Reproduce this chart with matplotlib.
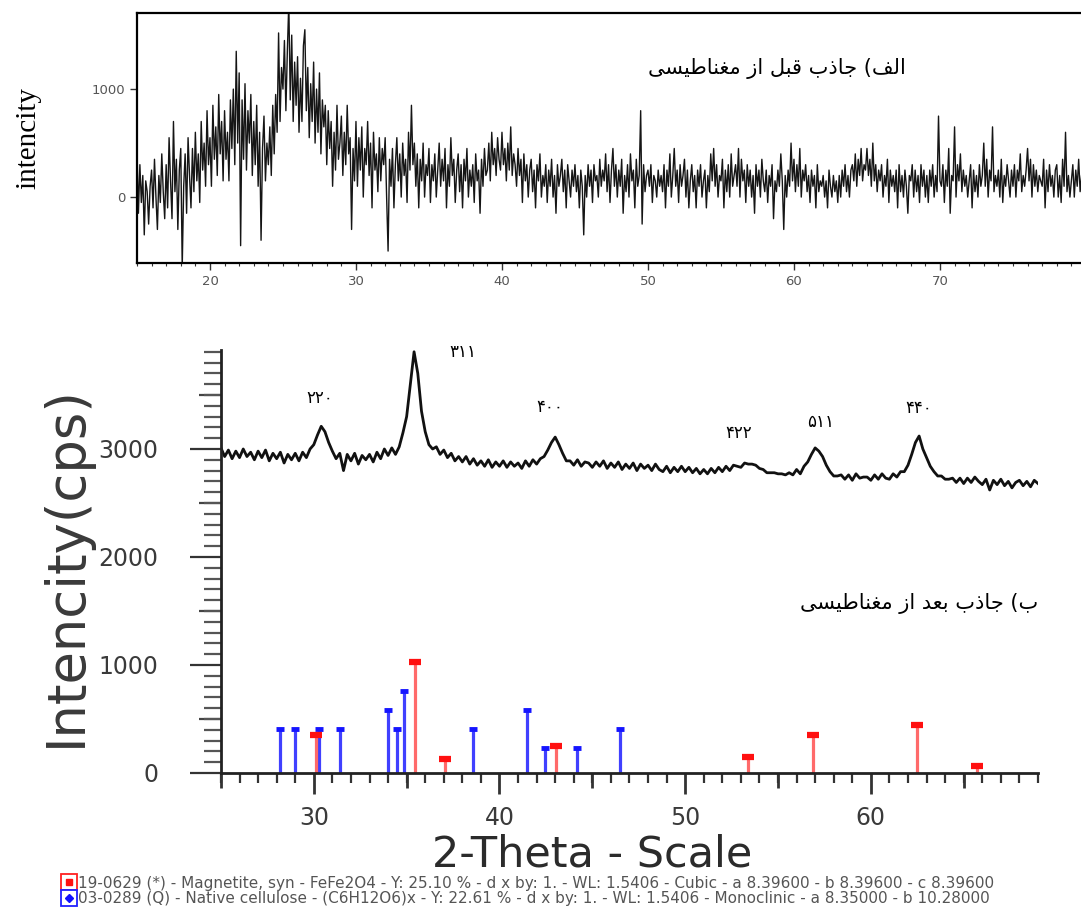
import numpy as np
import matplotlib
matplotlib.use("Agg")
import matplotlib.pyplot as plt
from matplotlib.lines import Line2D
from matplotlib.legend_handler import HandlerTuple
from matplotlib.ticker import MultipleLocator, NullFormatter

plt.rcParams["font.family"] = ["DejaVu Sans"]

# ---- (a) sorbent before magnetisation: 2theta 15.0..79.9, step 0.1 (one row per degree)
before_start, before_step = 15.0, 0.1
before_counts = [
    450, -150, 300, -50, 200, -350, 150, 50, -250, 100,
    250, -100, 350, 0, -300, 200, -50, 400, 50, -200,
    300, -100, 550, 150, -200, 700, 50, 350, -300, 250,
    450, -650, 100, 400, -150, 550, 200, -100, 450, 50,
    600, 150, 400, -50, 700, 250, 500, 100, 800, 300,
    550, 100, 850, 350, 650, 200, 950, 400, 700, 150,
    800, 350, 600, 150, 900, 450, 1000, 300, 1350, 500,
    1150, -450, 900, 350, 1050, 250, 800, 500, 950, 200,
    700, 300, 850, 100, 600, -400, 450, 750, 150, 500,
    300, 650, 200, 850, 400, 950, 600, 1520, 700, 1200,
    1000, 1450, 800, 1350, 1800, 900, 1500, 700, 1250, 850,
    1300, 600, 1100, 700, 1400, 1550, 800, 1200, 550, 1050,
    700, 1250, 500, 1000, 600, 1150, 400, 900, 650, 850,
    300, 800, 450, 700, 100, 600, 250, 850, 350, 500,
    750, 200, 600, 300, 850, 400, 550, -300, 450, 150,
    700, 100, 550, 250, 650, 0, 450, 300, 700, 200,
    500, -100, 600, 250, 400, 50, 550, 150, 450, 300,
    550, 0, -500, 350, 100, 450, -100, 300, 550, 150,
    400, 0, 500, 200, 350, -50, 600, 250, 850, 300,
    500, 100, 400, -100, 350, 150, 500, 0, 300, 200,
    450, -50, 300, 150, 400, 0, 250, 500, 100, 350,
    150, 450, -100, 300, 100, 550, 200, 350, -50, 250,
    400, 50, 300, -100, 350, 150, 450, 0, 250, 100,
    300, -50, 400, 150, 250, -150, 350, 100, 450, 200,
    250, 500, 150, 600, 300, 450, 200, 550, 350, 250,
    600, 300, 450, 150, 500, 250, 650, 200, 400, 300,
    100, 450, 200, 350, -50, 400, 150, 300, 0, 250,
    350, 50, 250, -100, 300, 150, 400, 0, 200, 100,
    300, -50, 250, 100, 350, 0, 200, -150, 300, 100,
    200, 350, 50, 250, -100, 300, 150, 0, 250, 100,
    300, 50, 200, -100, 250, 100, -350, 200, 0, 300,
    100, 250, -50, 300, 150, 200, 0, 350, 100, 250,
    150, 400, 50, 300, -50, 250, 450, 100, 300, 0,
    250, 100, 350, -150, 200, 50, 300, 0, 400, 150,
    250, -100, 350, 100, 200, 800, -250, 300, 50, 200,
    250, 100, 300, -50, 200, 150, 0, 250, 100, 200,
    50, 300, -100, 250, 100, 400, 0, 200, 450, 100,
    250, -50, 300, 100, 200, 350, 0, 250, -100, 150,
    300, 50, 200, -100, 250, 100, 300, 0, 150, 250,
    -100, 200, 50, 400, 150, 450, 100, 300, 0, 200,
    150, 350, -100, 250, 50, 300, 0, 400, 100, 200,
    300, 100, 450, 0, 350, 150, 250, -50, 300, 100,
    250, 0, 200, -150, 300, 100, 250, 0, 350, 150,
    50, 250, -50, 200, 100, 300, -200, 150, 50, 250,
    100, 400, 150, -300, 200, 0, 250, 100, 500, 150,
    350, 50, 300, 100, 450, 0, 250, 150, 300, 50,
    200, -50, 250, 100, 200, -100, 300, 50, 150, 100,
    200, 0, 150, -100, 250, 100, 0, 200, 50, 150,
    -50, 200, 0, 250, 100, 300, 50, 200, 0, 250,
    300, 150, 400, 100, 350, 200, 450, 150, 300, 250,
    450, 200, 350, 100, 500, 150, 300, 50, 250, 150,
    300, 0, 200, 100, 350, -50, 250, 100, 200, 50,
    250, -100, 300, 50, 200, 0, 250, 100, -150, 200,
    150, 300, 0, 250, 50, 200, -50, 300, 100, 250,
    0, 200, -50, 250, 100, 300, 0, 200, 50, 750,
    150, 100, 300, -50, 250, 100, 450, -150, 200, 150,
    650, 0, 300, 150, 400, 50, 250, 100, 200, 0,
    150, 300, -100, 250, 50, 200, 0, 300, 100, 200,
    500, 100, 350, 0, 250, 150, 650, 50, 200, 100,
    250, 0, 350, -50, 200, 100, 300, 150, 0, 250,
    100, 300, 0, 250, 150, 400, 50, 200, 100, 250,
    450, 150, 350, 0, 300, 100, 250, 50, 200, 150,
    100, 350, -100, 250, 50, 300, 100, 200, 0, 250,
    300, 0, 200, -50, 350, 100, 600, 50, 200, 0,
    150, 300, 0, 250, 100, 350, 50, 200, 100, 250,
]

# ---- (b) sorbent after magnetisation: 2theta 25..69, step 0.2
after_start, after_step = 25.0, 0.2
after_counts = [
    3010, 2930, 2990, 2910, 2980,  2920, 3000, 2930, 2970, 2900,
    2980, 2920, 2990, 2890, 2960,  2910, 2970, 2870, 2950, 2900,
    2960, 2890, 2970, 2920, 3000,  3040, 3130, 3210, 3160, 3060,
    2980, 2910, 2960, 2800, 2950,  2890, 2960, 2860, 2940, 2900,
    2950, 2880, 2970, 2910, 3000,  2940, 3010, 2950, 3020, 3150,
    3300, 3600, 3900, 3700, 3350,  3160, 3040, 3000, 3020, 2950,
    2990, 2920, 2960, 2890, 2930,  2880, 2930, 2860, 2910, 2850,
    2890, 2840, 2900, 2830, 2880,  2840, 2890, 2830, 2880, 2840,
    2870, 2820, 2890, 2840, 2900,  2860, 2910, 2930, 2990, 3060,
    3110, 3040, 2960, 2890, 2890,  2850, 2900, 2840, 2880, 2870,
    2830, 2880, 2840, 2890, 2820,  2870, 2830, 2880, 2810, 2860,
    2820, 2870, 2800, 2860, 2820,  2850, 2800, 2860, 2810, 2790,
    2840, 2780, 2830, 2790, 2840,  2790, 2830, 2780, 2820, 2770,
    2810, 2770, 2820, 2780, 2830,  2790, 2840, 2800, 2850, 2840,
    2830, 2870, 2860, 2860, 2850,  2820, 2810, 2780, 2780, 2780,
    2770, 2770, 2760, 2780, 2760,  2810, 2770, 2840, 2880, 2950,
    3010, 2980, 2930, 2850, 2790,  2750, 2750, 2760, 2720, 2760,
    2710, 2770, 2730, 2740, 2740,  2710, 2760, 2720, 2770, 2730,
    2720, 2770, 2740, 2790, 2790,  2850, 2950, 3060, 3120, 3000,
    2920, 2840, 2790, 2750, 2750,  2720, 2720, 2730, 2690, 2730,
    2680, 2730, 2690, 2740, 2700,  2670, 2720, 2620, 2710, 2670,
    2720, 2660, 2700, 2640, 2690,  2710, 2660, 2700, 2650, 2710,
    2680,
]

# reference patterns (stick lines)
magnetite_pos = [30.1, 35.45, 37.05, 43.05, 53.4, 56.9, 62.5, 65.7]
magnetite_int = [350, 1030, 130, 250, 150, 350, 445, 65]
cellulose_pos = [28.2, 29.0, 30.3, 31.4, 34.0, 34.5, 34.85, 38.6, 41.5, 42.45, 44.2, 46.5]
cellulose_int = [405, 405, 405, 405, 583, 405, 760, 405, 583, 231, 231, 405]

# hkl labels (Persian digits) and where they sit
hkl_labels = ["۲۲۰", "۳۱۱", "۴۰۰", "۴۲۲", "۵۱۱", "۴۴۰"]
hkl_x = [30.3, 38.0, 42.7, 52.9, 57.3, 62.6]
hkl_y = [3470, 3900, 3390, 3150, 3250, 3380]

title_before = "الف) جاذب قبل از مغناطیسی"
title_after = "ب) جاذب بعد از مغناطیسی"
legend_labels = [
    "19-0629 (*) - Magnetite, syn - FeFe2O4 - Y: 25.10 % - d x by: 1. - WL: 1.5406 - Cubic - a 8.39600 - b 8.39600 - c 8.39600",
    "03-0289 (Q) - Native cellulose - (C6H12O6)x - Y: 22.61 % - d x by: 1. - WL: 1.5406 - Monoclinic - a 8.35000 - b 10.28000",
]

# matplotlib has no arabic shaping -> map to presentation forms, then reverse
FORMS = {
    "ا": ("\uFE8D", "\uFE8E", None, None),
    "ب": ("\uFE8F", "\uFE90", "\uFE91", "\uFE92"),
    "ج": ("\uFE9D", "\uFE9E", "\uFE9F", "\uFEA0"),
    "د": ("\uFEA9", "\uFEAA", None, None),
    "ذ": ("\uFEAB", "\uFEAC", None, None),
    "ز": ("\uFEAF", "\uFEB0", None, None),
    "س": ("\uFEB1", "\uFEB2", "\uFEB3", "\uFEB4"),
    "ط": ("\uFEC1", "\uFEC2", "\uFEC3", "\uFEC4"),
    "ع": ("\uFEC9", "\uFECA", "\uFECB", "\uFECC"),
    "غ": ("\uFECD", "\uFECE", "\uFECF", "\uFED0"),
    "ف": ("\uFED1", "\uFED2", "\uFED3", "\uFED4"),
    "ق": ("\uFED5", "\uFED6", "\uFED7", "\uFED8"),
    "ل": ("\uFEDD", "\uFEDE", "\uFEDF", "\uFEE0"),
    "م": ("\uFEE1", "\uFEE2", "\uFEE3", "\uFEE4"),
    "ن": ("\uFEE5", "\uFEE6", "\uFEE7", "\uFEE8"),
    "ی": ("\uFEEF", "\uFEF0", "\uFEF3", "\uFEF4"),
}


def shape_fa(s):
    out = []
    for i, c in enumerate(s):
        if c not in FORMS:
            out.append(c)
            continue
        prev = s[i - 1] if i > 0 else ""
        nxt = s[i + 1] if i + 1 < len(s) else ""
        p = prev in FORMS and FORMS[prev][2] is not None
        n = nxt in FORMS and FORMS[c][2] is not None
        iso, fin, ini, med = FORMS[c]
        out.append(med if (p and n) else fin if p else ini if n else iso)
    # visual order + bidi mirroring of brackets
    return "".join(out)[::-1].translate(str.maketrans("()", ")("))


fig = plt.figure(figsize=(10.81, 9.08), dpi=100)

# ---------------- top panel
ax1 = fig.add_axes([0.1267, 0.7103, 0.8779, 0.2753])
x1 = before_start + before_step * np.arange(len(before_counts))
ax1.plot(x1, before_counts, color="#151515", lw=1.0)
ax1.set_xlim(15, 80)
ax1.set_ylim(-611, 1704)
ax1.set_yticks([0, 1000])
ax1.set_xticks(np.arange(20, 71, 10))
ax1.xaxis.set_minor_locator(MultipleLocator(1))
ax1.tick_params(axis="both", which="major", length=5, width=1, colors="#333333",
                labelsize=9.5, labelcolor="#555555")
ax1.tick_params(axis="x", which="minor", length=2.5, width=0.8, colors="#333333")
for s in ax1.spines.values():
    s.set_linewidth(1.6)
ax1.spines["right"].set_visible(False)
ax1.set_ylabel("intencity", family="Liberation Serif", fontsize=21, labelpad=36)
ax1.text(0.81, 0.78, shape_fa(title_before), transform=ax1.transAxes,
         ha="right", va="center", fontsize=15)

# ---------------- bottom panel
ax2 = fig.add_axes([0.2044, 0.1487, 0.7558, 0.4659])
x2 = after_start + after_step * np.arange(len(after_counts))
ax2.plot(x2, after_counts, color="#111111", lw=2.0)

ax2.vlines(cellulose_pos, 0, cellulose_int, colors="#4040ff", lw=2.3)
ax2.plot(cellulose_pos, cellulose_int, ls="none", marker="_", ms=6, mew=3.5,
         color="#1515ff")
ax2.vlines(magnetite_pos, 0, magnetite_int, colors="#ff6a6a", lw=2.3)
ax2.plot(magnetite_pos, magnetite_int, ls="none", marker="_", ms=8, mew=4.5,
         color="#ff1010")

for lab, hx, hy in zip(hkl_labels, hkl_x, hkl_y):
    ax2.text(hx, hy, lab, ha="center", va="center", fontsize=12)

ax2.text(1.0, 0.40, shape_fa(title_after), transform=ax2.transAxes,
         ha="right", va="center", fontsize=15)

ax2.set_xlim(25, 69)
ax2.set_ylim(0, 3917)
ax2.spines["top"].set_visible(False)
ax2.spines["right"].set_visible(False)
for side in ("left", "bottom"):
    ax2.spines[side].set_linewidth(2)
    ax2.spines[side].set_color("#222222")

ax2.yaxis.set_major_locator(MultipleLocator(1000))
ax2.yaxis.set_minor_locator(MultipleLocator(100))
ax2.xaxis.set_major_locator(MultipleLocator(10))
ax2.xaxis.set_minor_locator(MultipleLocator(1))
ax2.tick_params(axis="y", which="major", length=22, width=1.6, colors="#333333",
                labelsize=17, labelcolor="#3a3a3a", pad=23)
ax2.tick_params(axis="y", which="minor", length=12, width=1.6, colors="#555555")
ax2.tick_params(axis="x", which="major", length=15, width=2, colors="#333333",
                labelsize=17, labelcolor="#3a3a3a", pad=9)
ax2.tick_params(axis="x", which="minor", length=7, width=1.6, colors="#333333")

# medium ticks at the half steps
secy = ax2.secondary_yaxis("left")
secy.set_yticks(np.arange(500, 3917, 1000))
secy.yaxis.set_major_formatter(NullFormatter())
secy.tick_params(length=16, width=1.6, colors="#444444")
secy.spines["left"].set_visible(False)
secx = ax2.secondary_xaxis("bottom")
secx.set_xticks(np.arange(25, 70, 10))
secx.xaxis.set_major_formatter(NullFormatter())
secx.tick_params(length=11, width=2, colors="#333333")
secx.spines["bottom"].set_visible(False)

ax2.set_xlabel("2-Theta - Scale", fontsize=31, color="#2b2b2b")
ax2.xaxis.set_label_coords(0.454, -0.143)
ax2.set_ylabel("Intencity(cps)", fontsize=38, color="#3a3a3a")
ax2.yaxis.set_label_coords(-0.158, 0.49)

# pattern legend below (outer box + inner symbol overlaid)
h_mag = (Line2D([], [], ls="none", marker="s", ms=11, mfc="white", mec="#ff2020", mew=1.3),
         Line2D([], [], ls="none", marker="s", ms=5, mfc="#ff1010", mec="#ff1010"))
h_cel = (Line2D([], [], ls="none", marker="s", ms=11, mfc="white", mec="#2020ff", mew=1.3),
         Line2D([], [], ls="none", marker="D", ms=4.5, mfc="#1010ff", mec="#1010ff"))
fig.legend([h_mag, h_cel], legend_labels, handler_map={tuple: HandlerTuple(ndivide=1)},
           loc="upper left", bbox_to_anchor=(0.05, 0.044), frameon=False,
           fontsize=11, labelcolor="#555555", handlelength=0.9, handletextpad=0.15,
           labelspacing=0.05, borderpad=0)

fig.savefig("out.png", dpi=100)
